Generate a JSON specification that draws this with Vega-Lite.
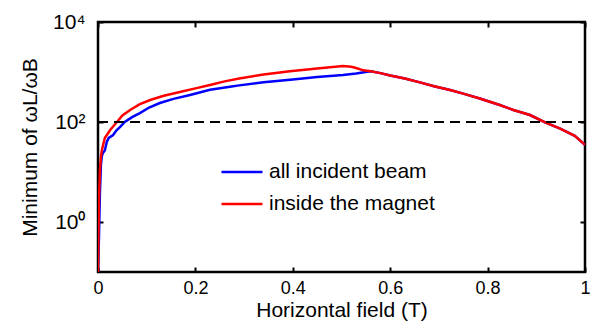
{
  "$schema": "https://vega.github.io/schema/vega-lite/v6.json",
  "width": 487,
  "height": 250,
  "autosize": {"type": "none"},
  "padding": {"left": 98, "top": 22, "right": 7, "bottom": 53},
  "background": "white",
  "config": {
    "font": "Liberation Sans",
    "view": {"stroke": "black", "strokeWidth": 2.5},
    "axis": {
      "grid": false,
      "domain": false,
      "ticks": true,
      "tickOpacity": 1,
      "tickColor": "black",
      "tickWidth": 2,
      "tickSize": 5,
      "offset": -5,
      "zindex": 1,
      "labelFlush": false,
      "labelFont": "Liberation Sans",
      "labelFontSize": 21,
      "labelColor": "black",
      "titleFont": "Liberation Sans",
      "titleFontSize": 21,
      "titleFontWeight": "normal",
      "titleColor": "black"
    }
  },
  "datasets": {
    "curves": [
      {"x": 0, "v": 0.1, "s": "all incident beam"},
      {"x": 0.002, "v": 0.5, "s": "all incident beam"},
      {"x": 0.004, "v": 4, "s": "all incident beam"},
      {"x": 0.006, "v": 14, "s": "all incident beam"},
      {"x": 0.008, "v": 21, "s": "all incident beam"},
      {"x": 0.01, "v": 24, "s": "all incident beam"},
      {"x": 0.014, "v": 27, "s": "all incident beam"},
      {"x": 0.018, "v": 40, "s": "all incident beam"},
      {"x": 0.022, "v": 48, "s": "all incident beam"},
      {"x": 0.031, "v": 55, "s": "all incident beam"},
      {"x": 0.038, "v": 68, "s": "all incident beam"},
      {"x": 0.045, "v": 79, "s": "all incident beam"},
      {"x": 0.055, "v": 100, "s": "all incident beam"},
      {"x": 0.07, "v": 125, "s": "all incident beam"},
      {"x": 0.086, "v": 151, "s": "all incident beam"},
      {"x": 0.105, "v": 195, "s": "all incident beam"},
      {"x": 0.127, "v": 240, "s": "all incident beam"},
      {"x": 0.155, "v": 290, "s": "all incident beam"},
      {"x": 0.189, "v": 347, "s": "all incident beam"},
      {"x": 0.23, "v": 440, "s": "all incident beam"},
      {"x": 0.271, "v": 505, "s": "all incident beam"},
      {"x": 0.29, "v": 540, "s": "all incident beam"},
      {"x": 0.34, "v": 625, "s": "all incident beam"},
      {"x": 0.4, "v": 710, "s": "all incident beam"},
      {"x": 0.45, "v": 790, "s": "all incident beam"},
      {"x": 0.503, "v": 870, "s": "all incident beam"},
      {"x": 0.53, "v": 930, "s": "all incident beam"},
      {"x": 0.553, "v": 1010, "s": "all incident beam"},
      {"x": 0.56, "v": 1030, "s": "all incident beam"},
      {"x": 0.58, "v": 950, "s": "all incident beam"},
      {"x": 0.6, "v": 850, "s": "all incident beam"},
      {"x": 0.63, "v": 740, "s": "all incident beam"},
      {"x": 0.661, "v": 620, "s": "all incident beam"},
      {"x": 0.69, "v": 520, "s": "all incident beam"},
      {"x": 0.723, "v": 437, "s": "all incident beam"},
      {"x": 0.75, "v": 370, "s": "all incident beam"},
      {"x": 0.784, "v": 295, "s": "all incident beam"},
      {"x": 0.825, "v": 219, "s": "all incident beam"},
      {"x": 0.853, "v": 174, "s": "all incident beam"},
      {"x": 0.887, "v": 138, "s": "all incident beam"},
      {"x": 0.918, "v": 98, "s": "all incident beam"},
      {"x": 0.949, "v": 74, "s": "all incident beam"},
      {"x": 0.979, "v": 53, "s": "all incident beam"},
      {"x": 1.0, "v": 35, "s": "all incident beam"},
      {"x": 0, "v": 0.1, "s": "inside the magnet"},
      {"x": 0.001, "v": 0.6, "s": "inside the magnet"},
      {"x": 0.002, "v": 2.75, "s": "inside the magnet"},
      {"x": 0.004, "v": 11, "s": "inside the magnet"},
      {"x": 0.006, "v": 20, "s": "inside the magnet"},
      {"x": 0.008, "v": 27.5, "s": "inside the magnet"},
      {"x": 0.014, "v": 48, "s": "inside the magnet"},
      {"x": 0.025, "v": 69, "s": "inside the magnet"},
      {"x": 0.039, "v": 100, "s": "inside the magnet"},
      {"x": 0.05, "v": 135, "s": "inside the magnet"},
      {"x": 0.066, "v": 174, "s": "inside the magnet"},
      {"x": 0.085, "v": 225, "s": "inside the magnet"},
      {"x": 0.107, "v": 275, "s": "inside the magnet"},
      {"x": 0.135, "v": 335, "s": "inside the magnet"},
      {"x": 0.168, "v": 398, "s": "inside the magnet"},
      {"x": 0.2, "v": 470, "s": "inside the magnet"},
      {"x": 0.23, "v": 550, "s": "inside the magnet"},
      {"x": 0.26, "v": 650, "s": "inside the magnet"},
      {"x": 0.29, "v": 740, "s": "inside the magnet"},
      {"x": 0.34, "v": 890, "s": "inside the magnet"},
      {"x": 0.394, "v": 1040, "s": "inside the magnet"},
      {"x": 0.45, "v": 1180, "s": "inside the magnet"},
      {"x": 0.503, "v": 1318, "s": "inside the magnet"},
      {"x": 0.52, "v": 1270, "s": "inside the magnet"},
      {"x": 0.53, "v": 1200, "s": "inside the magnet"},
      {"x": 0.545, "v": 1080, "s": "inside the magnet"},
      {"x": 0.56, "v": 1030, "s": "inside the magnet"},
      {"x": 0.58, "v": 950, "s": "inside the magnet"},
      {"x": 0.6, "v": 850, "s": "inside the magnet"},
      {"x": 0.63, "v": 740, "s": "inside the magnet"},
      {"x": 0.661, "v": 620, "s": "inside the magnet"},
      {"x": 0.69, "v": 520, "s": "inside the magnet"},
      {"x": 0.723, "v": 437, "s": "inside the magnet"},
      {"x": 0.75, "v": 370, "s": "inside the magnet"},
      {"x": 0.784, "v": 295, "s": "inside the magnet"},
      {"x": 0.825, "v": 219, "s": "inside the magnet"},
      {"x": 0.853, "v": 174, "s": "inside the magnet"},
      {"x": 0.887, "v": 138, "s": "inside the magnet"},
      {"x": 0.918, "v": 98, "s": "inside the magnet"},
      {"x": 0.949, "v": 74, "s": "inside the magnet"},
      {"x": 0.979, "v": 53, "s": "inside the magnet"},
      {"x": 1.0, "v": 35, "s": "inside the magnet"}
    ],
    "threshold": [{"x0": 0, "x1": 1, "v": 100}]
  },
  "layer": [
    {
      "data": {"name": "curves"},
      "mark": {"type": "line", "strokeWidth": 2.5, "clip": true},
      "encoding": {
        "x": {
          "field": "x", "type": "quantitative",
          "scale": {"domain": [0, 1], "nice": false, "zero": false},
          "axis": {"orient": "bottom", "offset": -5, "ticks": true, "tickSize": 5, "values": [0, 0.2, 0.4, 0.6, 0.8, 1], "format": "~g", "labelFontSize": 18, "title": "Horizontal field (T)", "labelPadding": 7, "titleBaseline": "alphabetic", "titleY": 49}
        },
        "y": {
          "field": "v", "type": "quantitative",
          "scale": {"type": "log", "domain": [0.1, 10000], "nice": false},
          "axis": {"orient": "left", "offset": -5, "ticks": true, "tickSize": 5, "values": [1, 100, 10000], "labelExpr": "datum.value == 1 ? '10⁰' : datum.value == 100 ? '10²' : '10⁴'", "title": "Minimum of ωL/ωB", "labelPadding": 13, "titleBaseline": "alphabetic", "titleX": -67}
        },
        "color": {
          "field": "s", "type": "nominal",
          "scale": {"domain": ["all incident beam", "inside the magnet"], "range": ["#0000ff", "#ff0000"]},
          "legend": {
            "orient": "none", "legendX": 122, "legendY": 128, "title": null,
            "symbolType": "stroke", "symbolSize": 1681, "symbolStrokeWidth": 2.5,
            "labelFont": "Liberation Sans", "labelFontSize": 21, "labelColor": "black",
            "labelLimit": 400, "labelOffset": 5, "rowPadding": -19
          }
        }
      }
    },
    {
      "data": {"name": "threshold"},
      "mark": {"type": "rule", "color": "black", "strokeWidth": 2, "strokeDash": [10, 6]},
      "encoding": {
        "x": {
          "field": "x0", "type": "quantitative",
          "scale": {"domain": [0, 1], "nice": false, "zero": false},
          "axis": {"orient": "top", "offset": -5, "ticks": true, "tickSize": 5, "values": [0, 0.2, 0.4, 0.6, 0.8, 1], "labels": false, "title": null}
        },
        "x2": {"field": "x1"},
        "y": {
          "field": "v", "type": "quantitative",
          "scale": {"type": "log", "domain": [0.1, 10000], "nice": false},
          "axis": {"orient": "right", "offset": -5, "ticks": true, "tickSize": 5, "values": [1, 100, 10000], "labels": false, "title": null}
        }
      }
    }
  ],
  "resolve": {"axis": {"x": "independent", "y": "independent"}}
}
